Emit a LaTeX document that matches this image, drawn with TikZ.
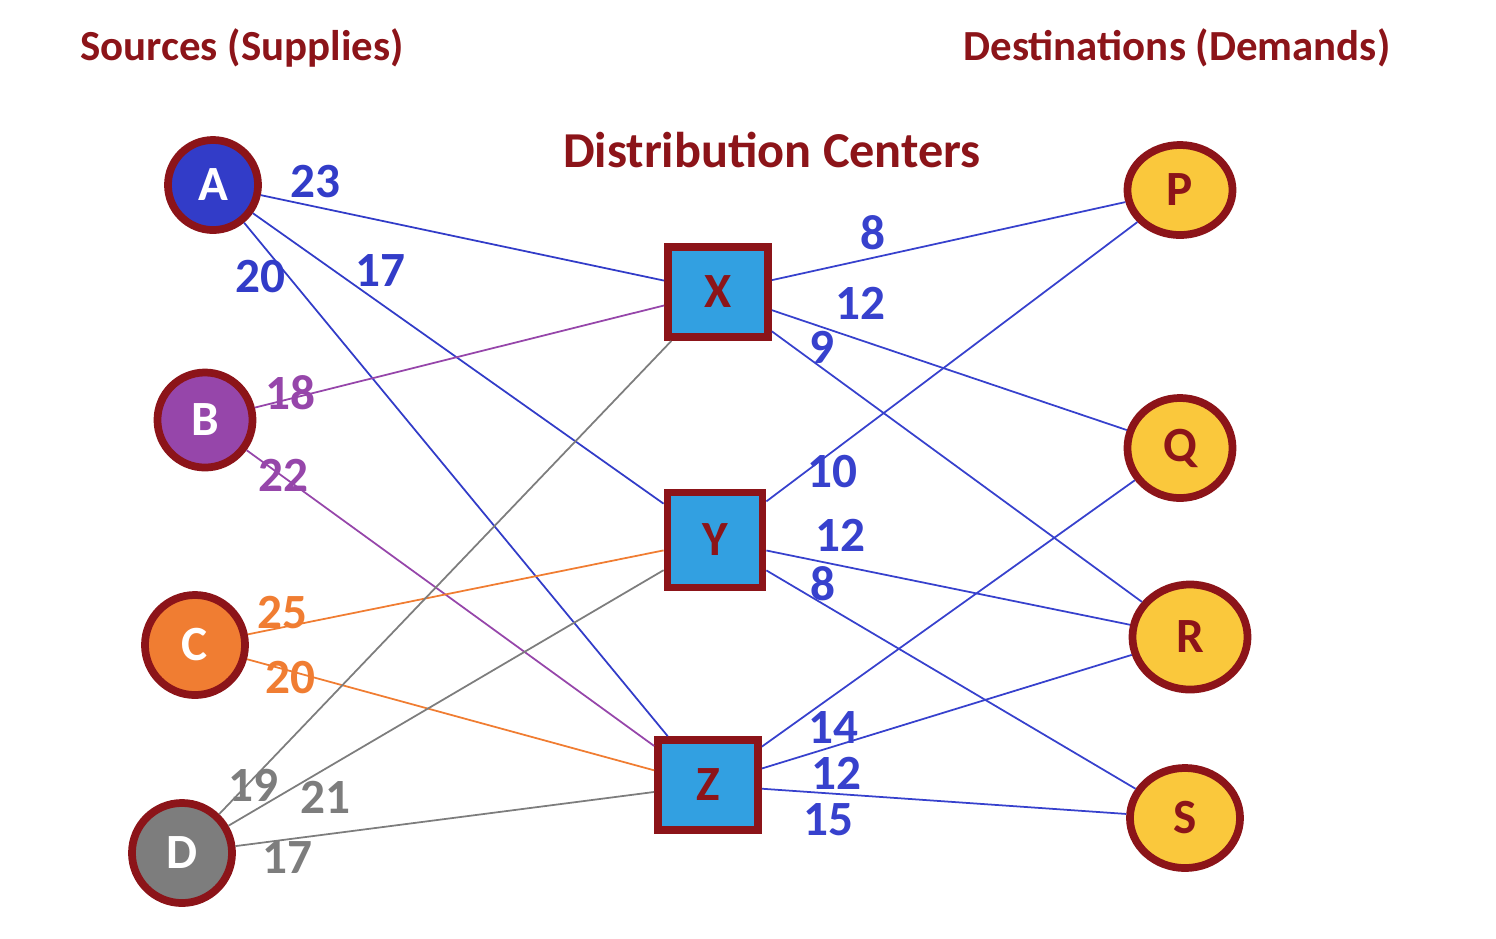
\documentclass[tikz,border=0pt]{standalone}
\usepackage{fontspec}
\setmainfont{Carlito}
\usetikzlibrary{shapes.geometric}
\definecolor{Rim}{RGB}{140,20,25}
\definecolor{SrcA}{RGB}{50,60,200}
\definecolor{SrcB}{RGB}{150,70,170}
\definecolor{SrcC}{RGB}{240,125,50}
\definecolor{SrcD}{RGB}{125,125,125}
\definecolor{Ctr}{RGB}{50,160,225}
\definecolor{Dst}{RGB}{250,200,60}
\definecolor{Cost}{RGB}{55,65,205}
\tikzset{
  src/.style={circle,draw=Rim,line width=2.2pt,minimum size=#1,text=white,font=\fontsize{14}{16}\selectfont\bfseries},
  ctr/.style={rectangle,draw=Rim,line width=2.2pt,fill=Ctr,minimum width=#1,minimum height=0.9cm,text=Rim,font=\fontsize{14}{16}\selectfont\bfseries},
  dst/.style={ellipse,draw=Rim,line width=2.2pt,fill=Dst,text=Rim,font=\fontsize{14}{16}\selectfont\bfseries},
  title/.style={text=Rim,font=\fontsize{12.2}{14}\selectfont\bfseries},
  cost/.style={font=\fontsize{14}{16}\selectfont\bfseries},
  link/.style={line width=0.5pt}
}
\begin{document}
\begin{tikzpicture}[x=0.01cm,y=-0.01cm]
\useasboundingbox (0,0) rectangle (1496,938);
% titles
\node[title] at (242,48) {Sources (Supplies)};
\node[title] at (1177,48) {Destinations (Demands)};
\node[title,font=\fontsize{14.3}{16}\selectfont\bfseries] at (772,150) {Distribution Centers};
% sources
\node[src=0.9cm,fill=SrcA] (a) at (213,185) {A};
\node[src=0.95cm,fill=SrcB] (b) at (205,420) {B};
\node[src=1.0cm,fill=SrcC] (c) at (195,645) {C};
\node[src=1.0cm,fill=SrcD] (d) at (182,853) {D};
% distribution centers
\node[ctr=1.0cm] (x) at (718,292) {X};
\node[ctr=0.95cm,minimum height=0.95cm] (y) at (715,540) {Y};
\node[ctr=1.0cm] (z) at (708,785) {Z};
% destinations
\node[dst,minimum width=1.05cm,minimum height=0.9cm] (p) at (1180,190) {P};
\node[dst,minimum width=1.05cm,minimum height=1.0cm] (q) at (1180,448) {Q};
\node[dst,minimum width=1.15cm,minimum height=1.05cm] (r) at (1190,637) {R};
\node[dst,minimum width=1.1cm,minimum height=1.0cm] (s) at (1185,818) {S};
% source links
\draw[link,SrcA] (a) -- (x);
\draw[link,SrcA] (a) -- (y);
\draw[link,SrcA] (a) -- (z);
\draw[link,SrcB] (b) -- (x);
\draw[link,SrcB] (b) -- (z);
\draw[link,SrcC] (c) -- (y);
\draw[link,SrcC] (c) -- (z);
\draw[link,SrcD] (d) -- (x);
\draw[link,SrcD] (d) -- (y);
\draw[link,SrcD] (d) -- (z);
% center links
\foreach \f/\t in {x/p,x/q,x/r,y/p,y/r,y/s,z/q,z/r,z/s}
  \draw[link,Cost] (\f) -- (\t);
% costs
\node[cost,SrcA] at (315,182) {23};
\node[cost,SrcA] at (260,277) {20};
\node[cost,SrcA] at (380,270) {17};
\node[cost,SrcB] at (290,393) {18};
\node[cost,SrcB] at (283,475) {22};
\node[cost,SrcC] at (282,613) {25};
\node[cost,SrcC] at (290,678) {20};
\node[cost,SrcD] at (253,785) {19};
\node[cost,SrcD] at (325,797) {21};
\node[cost,SrcD] at (287,857) {17};
\node[cost,Cost] at (873,233) {8};
\node[cost,Cost] at (860,303) {12};
\node[cost,Cost] at (822,347) {9};
\node[cost,Cost] at (832,472) {10};
\node[cost,Cost] at (840,535) {12};
\node[cost,Cost] at (823,584) {8};
\node[cost,Cost] at (833,727) {14};
\node[cost,Cost] at (836,773) {12};
\node[cost,Cost] at (828,820) {15};
\end{tikzpicture}
\end{document}
